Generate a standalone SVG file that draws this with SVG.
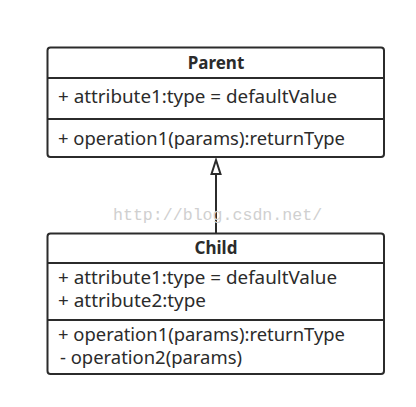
<svg xmlns="http://www.w3.org/2000/svg" width="416" height="407" viewBox="0 0 416 407">
<style>
.box{fill:#fff;stroke:#2b2b2b;stroke-width:2}
.div{stroke:#2b2b2b;stroke-width:2}
.t{font-family:"Noto Sans","Open Sans",sans-serif;font-size:17.5px;fill:#2b2b2b}
.title{font-family:"Noto Sans","Open Sans",sans-serif;font-size:17px;font-weight:bold;fill:#2b2b2b;text-anchor:middle}
.wm{font-family:"Liberation Mono",monospace;font-size:16.6px;fill:#d0d0d0}
</style>
<rect width="416" height="407" fill="#fff"/>
<g id="connectors">
<line x1="216" y1="174" x2="216" y2="233" stroke="#2b2b2b" stroke-width="2"/>
<polygon points="216,160 211.5,174 220.5,174" fill="#fff" stroke="#2b2b2b" stroke-width="2" stroke-linejoin="miter"/>
</g>
<text class="wm" x="113" y="220">http://blog.csdn.net/</text>
<g id="parent">
<rect class="box" x="47.5" y="47.5" width="336.5" height="109.5" rx="3"/>
<line class="div" x1="47.5" y1="78" x2="384" y2="78"/>
<line class="div" x1="47.5" y1="119" x2="384" y2="119"/>
<text class="title" x="216" y="69">Parent</text>
<text class="t" x="58" y="103" textLength="279" lengthAdjust="spacingAndGlyphs">+ attribute1:type = defaultValue</text>
<text class="t" x="58" y="145" textLength="287" lengthAdjust="spacingAndGlyphs">+ operation1(params):returnType</text>
</g>
<g id="child">
<rect class="box" x="47.5" y="233.5" width="336.5" height="140.5" rx="3"/>
<line class="div" x1="47.5" y1="263" x2="384" y2="263"/>
<line class="div" x1="47.5" y1="320" x2="384" y2="320"/>
<text class="title" x="216" y="254">Child</text>
<text class="t" x="58" y="283.5" textLength="279" lengthAdjust="spacingAndGlyphs">+ attribute1:type = defaultValue</text>
<text class="t" x="58" y="306.5" textLength="148" lengthAdjust="spacingAndGlyphs">+ attribute2:type</text>
<text class="t" x="58" y="341" textLength="287" lengthAdjust="spacingAndGlyphs">+ operation1(params):returnType</text>
<text class="t" x="60" y="364" textLength="182" lengthAdjust="spacingAndGlyphs">- operation2(params)</text>
</g>
</svg>
